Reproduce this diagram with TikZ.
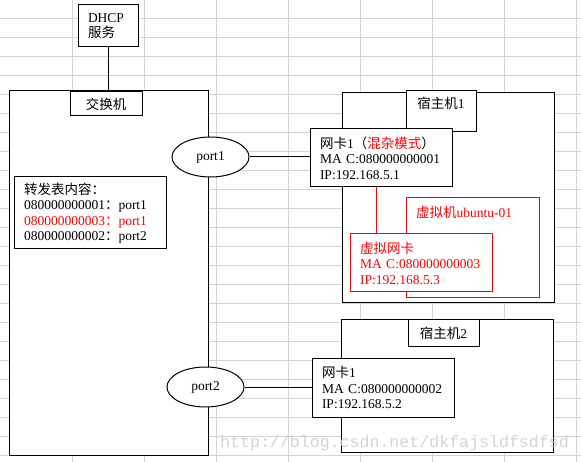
\documentclass[tikz,border=0pt]{standalone}
\usepackage{fontspec}
\setmainfont{Liberation Serif}
\setmonofont{Liberation Mono}
\newfontfamily\cjk{Noto Sans CJK SC}
\usetikzlibrary{shapes.geometric}
\definecolor{gridGray}{RGB}{212,212,212}
\definecolor{markGray}{RGB}{200,200,200}

\begin{document}
\begin{tikzpicture}
[x=1pt, y=-1pt, font=\fontsize{13.5}{15.5}\selectfont,
 lineDecorate/.style={line width=1pt},
 gridDecorate/.style={draw=gridGray, line width=1pt},
 boxDecorate/.style={shape=rectangle, draw, line width=1pt, fill=white, inner sep=0pt},
 portDecorate/.style={shape=ellipse, draw, line width=1pt, fill=white, inner sep=0pt, minimum width=77pt, minimum height=40pt}]

\useasboundingbox (0,0) rectangle (581,462);

 % sheet grid
 \foreach \i in {0,...,23}
 {
          \draw[gridDecorate] (0,18.5+\i*19) -- (581,18.5+\i*19);
 }
 \foreach \i in {1,...,8}
 {
          \draw[gridDecorate] (\i*72,0) -- (\i*72,462);
 }

 % switch
 \node (switchBox) at (108.5,273) [boxDecorate, minimum width=199pt, minimum height=364pt] {};
 \node (dhcp) at (108,26) [boxDecorate, minimum width=60pt, minimum height=42pt, text width=40pt, align=left] {DHCP\\{\cjk 服务}};
 \draw[lineDecorate] (dhcp.south) -- (dhcp.south |- switchBox.north);
 \node (switchLabel) at (106,104) [boxDecorate, minimum width=72pt, minimum height=24pt] {\cjk 交换机};
 \node (table) at (90,213) [boxDecorate, minimum width=152pt, minimum height=72pt, text width=132pt, align=left]
   {{\cjk 转发表内容：}\\080000000001{\cjk ：}port1\\\textcolor{red}{080000000003{\cjk ：}port1}\\080000000002{\cjk ：}port2};
 \node (port1) at (210.5,157) [portDecorate] {port1};
 \node (port2) at (205.5,387) [portDecorate] {port2};

 % host 1
 \node (host1) at (448,198) [boxDecorate, minimum width=212pt, minimum height=210pt] {};
 \node (host1Label) at (441,111.5) [boxDecorate, minimum width=70pt, minimum height=41pt, text height=10pt, text depth=15pt] {{\cjk 宿主机}1};
 \node (nic1) at (381,158) [boxDecorate, minimum width=142pt, minimum height=58pt, text width=122pt, align=left]
   {{\cjk 网卡}1{\cjk （\textcolor{red}{混杂模式}）}\\MA C:080000000001\\IP:192.168.5.1};
 \node (vm) at (472.5,248) [boxDecorate, draw=red, minimum width=133pt, minimum height=100pt] {};
 \node (vmTitle) at (416,212) [anchor=west, inner sep=0pt, text=red] {{\cjk 虚拟机}ubuntu-01};
 \node (vnic) at (421,263) [boxDecorate, draw=red, text=red, minimum width=142pt, minimum height=58pt, text width=122pt, align=left]
   {{\cjk 虚拟网卡}\\MA C:080000000003\\IP:192.168.5.3};
 \draw[lineDecorate, red] ([xshift=-5pt]nic1.south) -- ([xshift=-5pt]nic1.south |- vnic.north);

 % host 2
 \node (host2) at (447,386) [boxDecorate, minimum width=212pt, minimum height=132pt] {};
 \node (host2Label) at (443.5,333) [boxDecorate, minimum width=71pt, minimum height=26pt] {{\cjk 宿主机}2};
 \node (nic2) at (383,387.5) [boxDecorate, minimum width=142pt, minimum height=59pt, text width=122pt, align=left]
   {{\cjk 网卡}1\\MA C:080000000002\\IP:192.168.5.2};

\path
 (port1.east) edge[lineDecorate] (port1.east -| nic1.west)
 (port2.east) edge[lineDecorate] (port2.east -| nic2.west);

 \node (mark) at (394.5,447.5) [anchor=base, inner sep=0pt, text=markGray, opacity=0.8, font=\ttfamily\fontsize{16.6}{18}\selectfont] {http://blog.csdn.net/dkfajsldfsdfsd};
\end{tikzpicture}
\end{document}
